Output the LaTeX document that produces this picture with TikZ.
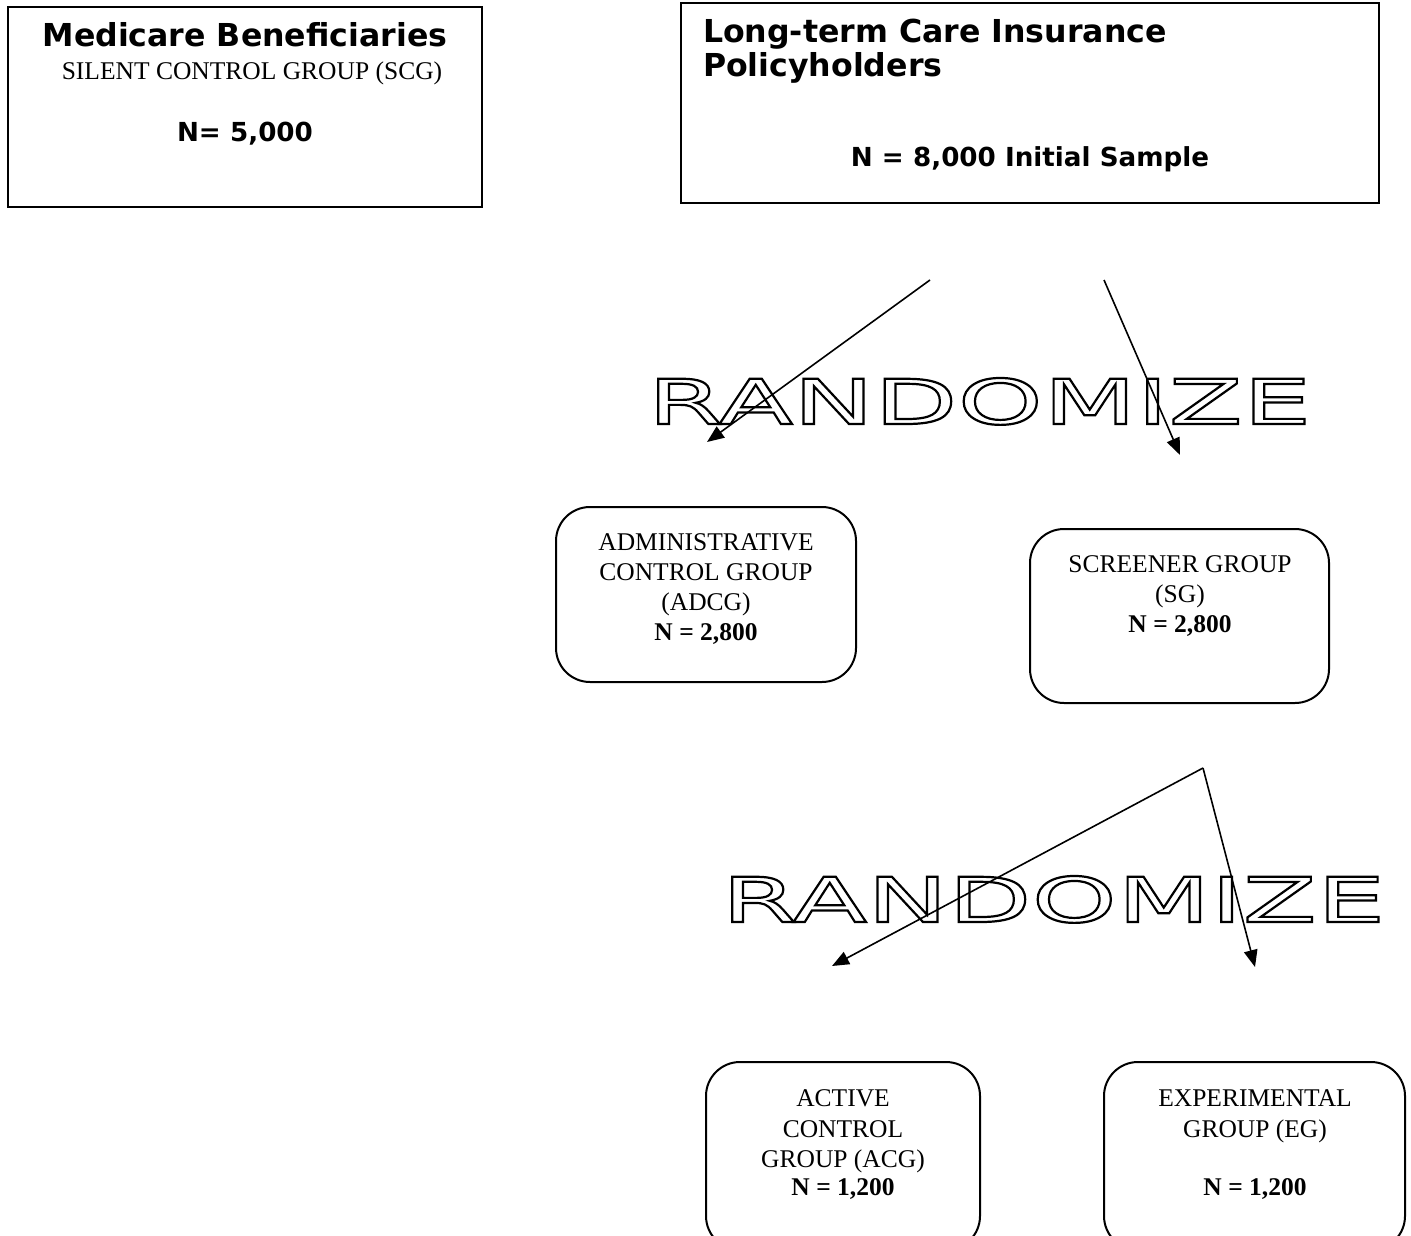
\documentclass[tikz,border=0pt]{standalone}
\usepackage{fontspec}
\setmainfont{Liberation Serif}
\newfontfamily\titlefont{DejaVu Sans}
\newfontfamily\randfont[FakeStretch=1.75]{DejaVu Sans}
\usetikzlibrary{arrows.meta}
\newcommand\outlinetext[1]{\special{pdf:literal direct 1 Tr 1.1 w}#1\special{pdf:literal direct 0 Tr}}
\begin{document}
\begin{tikzpicture}[x=0.5pt,y=-0.5pt,
  every node/.style={inner sep=0pt, outer sep=0pt},
  sqbox/.style={draw, line width=1pt, rectangle, fill=white},
  rbox/.style={draw, line width=1pt, rectangle, rounded corners=17pt, fill=white},
  serif/.style={font=\fontsize{12.75}{15}\selectfont, anchor=base},
  sanstitle/.style={font=\titlefont\bfseries\fontsize{15.8}{17}\selectfont, anchor=base},
  sansn/.style={font=\titlefont\bfseries\fontsize{13.1}{15}\selectfont, anchor=base},
  randword/.style={font=\randfont\fontsize{31}{34}\selectfont, anchor=base},
  arr/.style={line width=0.8pt, -{Triangle[length=8.5pt,width=6.8pt]}}
]
\useasboundingbox (0,0) rectangle (1411,1235);
\clip (0,0) rectangle (1411,1235);

% top boxes
\node[sqbox, minimum width=237pt, minimum height=100pt] (scg) at (245,107) {};
\node[sanstitle] (scgt) at (245,47) {Medicare Beneficiaries};
\node[serif] (scgs) at (252,80) {SILENT CONTROL GROUP (SCG)};
\node[sansn] (scgn) at (245,142) {N= 5,000};

\node[sqbox, minimum width=349pt, minimum height=100pt] (ltc) at (1030,103) {};
\node[sanstitle, anchor=base west] (ltct1) at (703,43) {Long-term Care Insurance};
\node[sanstitle, anchor=base west] (ltct2) at (703,77) {Policyholders};
\node[sansn] (ltcn) at (1030,167) {N = 8,000 Initial Sample};

% first randomization
\node[randword] (rand1) at (979.5,424) {\outlinetext{RANDOMIZE}};
\coordinate (a1s) at (930,280);
\coordinate (a1e) at (707,442);
\coordinate (a2s) at (1104,280);
\coordinate (a2e) at (1180,455);
\draw[arr] (a1s) -- (a1e);
\draw[arr] (a2s) -- (a2e);

% second level boxes
\node[rbox, minimum width=150pt, minimum height=87.5pt] (adcg) at (706,594.5) {};
\node[serif] (adcg1) at (706,550) {ADMINISTRATIVE};
\node[serif] (adcg2) at (706,580) {CONTROL GROUP};
\node[serif] (adcg3) at (706,610) {(ADCG)};
\node[serif] (adcg4) at (706,640) {\textbf{N = 2,800}};

\node[rbox, minimum width=149.5pt, minimum height=87pt] (sg) at (1179.5,616) {};
\node[serif] (sg1) at (1180,572) {SCREENER GROUP};
\node[serif] (sg2) at (1180,602) {(SG)};
\node[serif] (sg3) at (1180,632) {\textbf{N = 2,800}};

% second randomization
\node[randword] (rand2) at (1053.5,922) {\outlinetext{RANDOMIZE}};
\coordinate (a3s) at (1203,768);
\coordinate (a3e) at (832,966);
\coordinate (a4e) at (1255,967);
\draw[arr] (a3s) -- (a3e);
\draw[arr] (a3s) -- (a4e);

% bottom boxes
\node[rbox, minimum width=137pt, minimum height=94pt] (acg) at (843,1156) {};
\node[serif] (acg1) at (843,1106) {ACTIVE};
\node[serif] (acg2) at (843,1137) {CONTROL};
\node[serif] (acg3) at (843,1167) {GROUP (ACG)};
\node[serif] (acg4) at (843,1195) {\textbf{N = 1,200}};

\node[rbox, minimum width=150.5pt, minimum height=94pt] (eg) at (1254.5,1156) {};
\node[serif] (eg1) at (1255,1106) {EXPERIMENTAL};
\node[serif] (eg2) at (1255,1137) {GROUP (EG)};
\node[serif] (eg3) at (1255,1195) {\textbf{N = 1,200}};
\end{tikzpicture}
\end{document}
